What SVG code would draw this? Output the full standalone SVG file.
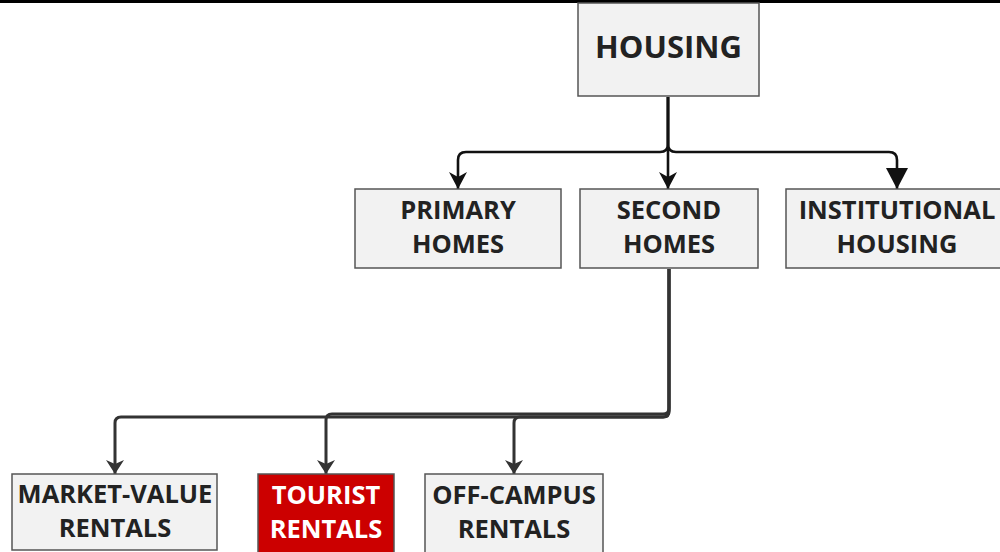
<svg xmlns="http://www.w3.org/2000/svg" width="1000" height="552" viewBox="0 0 1000 552">
  <style>
    .box { fill: #f2f2f2; stroke: #555; stroke-width: 1.5; }
    .hot { fill: #cc0000; stroke: #555; stroke-width: 1.5; }
    .lbl { font-family: "Open Sans", "Noto Sans", "Liberation Sans", sans-serif; font-weight: bold; font-size: 25.5px; fill: #222; text-anchor: middle; }
    .big { font-size: 31px; }
    .white { fill: #fff; }
    .top { fill: none; stroke: #111; stroke-width: 2.6; }
    .low { fill: none; stroke: #333; stroke-width: 3; }
  </style>
  <defs>
    <marker id="arrowTop" viewBox="0 0 17 18" refX="17" refY="9" markerWidth="17" markerHeight="18" markerUnits="userSpaceOnUse" orient="auto">
      <path d="M0,0 L17,9 L0,18 L5,9 Z" fill="#111"/>
    </marker>
    <marker id="arrowBig" viewBox="0 0 21 22" refX="21" refY="11" markerWidth="21" markerHeight="22" markerUnits="userSpaceOnUse" orient="auto">
      <path d="M0,0 L21,11 L0,22 Z" fill="#111"/>
    </marker>
    <marker id="arrowLow" viewBox="0 0 14 18" refX="14" refY="9" markerWidth="14" markerHeight="18" markerUnits="userSpaceOnUse" orient="auto">
      <path d="M0,0 L14,9 L0,18 L4,9 Z" fill="#333"/>
    </marker>
  </defs>

  <rect x="0" y="0" width="1000" height="552" fill="#fff"/>
  <rect x="0" y="0" width="1000" height="3" fill="#000"/>

  <g id="connectors">
    <path class="top" d="M668,97 V144 Q668,152 660,152 H466 Q458,152 458,160 V189" marker-end="url(#arrowTop)"/>
    <path class="top" d="M668,97 V189" marker-end="url(#arrowTop)"/>
    <path class="top" d="M668,97 V144 Q668,152 676,152 H889 Q897,152 897,160 V189" marker-end="url(#arrowBig)"/>
    <path class="low" d="M669,269 V408 Q669,414 663,414 H332 Q326,414 326,420 V474" marker-end="url(#arrowLow)"/>
    <path class="low" d="M669,269 V411 Q669,417 663,417 H121 Q115,417 115,423 V474" marker-end="url(#arrowLow)"/>
    <path class="low" d="M669,269 V411 Q669,417 663,417 H520 Q514,417 514,423 V474" marker-end="url(#arrowLow)"/>
  </g>

  <g id="housing">
    <rect class="box" x="578" y="3" width="181" height="93"/>
    <text class="lbl big" x="668.5" y="58">HOUSING</text>
  </g>
  <g id="primary-homes">
    <rect class="box" x="355" y="189" width="206" height="79"/>
    <text class="lbl" x="458" y="219">PRIMARY</text>
    <text class="lbl" x="458" y="253">HOMES</text>
  </g>
  <g id="second-homes">
    <rect class="box" x="580" y="189" width="178" height="79"/>
    <text class="lbl" x="669" y="219">SECOND</text>
    <text class="lbl" x="669" y="253">HOMES</text>
  </g>
  <g id="institutional-housing">
    <rect class="box" x="786" y="189" width="222" height="79"/>
    <text class="lbl" x="897" y="219">INSTITUTIONAL</text>
    <text class="lbl" x="897" y="253">HOUSING</text>
  </g>
  <g id="market-value-rentals">
    <rect class="box" x="12" y="474" width="205" height="76"/>
    <text class="lbl" x="115" y="503">MARKET-VALUE</text>
    <text class="lbl" x="115" y="537">RENTALS</text>
  </g>
  <g id="tourist-rentals">
    <rect class="hot" x="258" y="474" width="136" height="80"/>
    <text class="lbl white" x="326" y="504">TOURIST</text>
    <text class="lbl white" x="326" y="538">RENTALS</text>
  </g>
  <g id="off-campus-rentals">
    <rect class="box" x="425" y="474" width="178" height="80"/>
    <text class="lbl" x="514" y="504">OFF-CAMPUS</text>
    <text class="lbl" x="514" y="538">RENTALS</text>
  </g>
</svg>
